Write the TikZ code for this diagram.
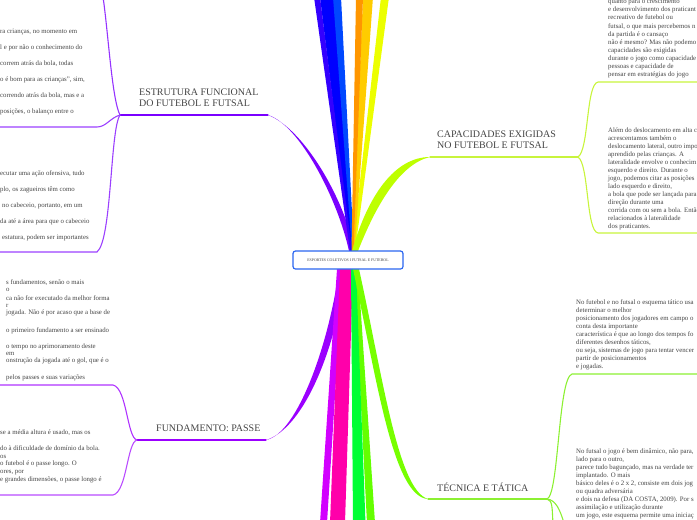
\documentclass[tikz,border=0pt]{standalone}
\usepackage{fontspec}
\setmainfont{Liberation Serif}
\usepackage{xcolor}
\definecolor{mmhub}{RGB}{43,102,240}
\definecolor{mmtext}{RGB}{68,68,68}
\definecolor{mmviolet}{RGB}{122,0,255}
\definecolor{mmpurple}{RGB}{155,0,255}
\definecolor{mmlime}{RGB}{190,255,0}
\definecolor{mmlimeline}{RGB}{200,244,60}
\definecolor{mmgreen}{RGB}{119,255,0}
\definecolor{mmgreenline}{RGB}{140,240,50}
\definecolor{mmindigo}{RGB}{51,0,255}
\definecolor{mmblue}{RGB}{0,0,255}
\definecolor{mmazure}{RGB}{0,72,255}
\definecolor{mmorange}{RGB}{255,150,0}
\definecolor{mmgold}{RGB}{255,204,0}
\definecolor{mmyellow}{RGB}{236,255,0}
\definecolor{mmmagenta}{RGB}{210,0,255}
\definecolor{mmpink}{RGB}{255,0,170}
\definecolor{mmspring}{RGB}{0,255,51}
\definecolor{mmchart}{RGB}{100,255,0}
\usepackage{tikz}

\begin{document}
\begin{tikzpicture}[x=1pt,y=-1pt,
  hub/.style={draw=mmhub,line width=1.2pt,rounded corners=2.5pt,fill=white,
    minimum width=110pt,minimum height=18pt,inner sep=0pt,
    font=\fontsize{3.9}{4.5}\selectfont,text=mmtext},
  topic/.style={font=\fontsize{10}{11}\selectfont,text=mmtext,align=left,inner sep=0pt},
  note/.style={text=mmtext,align=left,inner sep=0pt,anchor=north west},
  twig/.style={line width=1.1pt,line cap=round}
]
  \useasboundingbox (0,0) rectangle (697,520);
  \clip (0,0) rectangle (697,520);

  \coordinate (hubtop) at (353,251);
  \coordinate (hubbot) at (350,269);

  % Estrutura funcional
  \coordinate (estr-root) at (268,115);
  \coordinate (estr-fork) at (120,115);
  \coordinate (estr-up) at (103,-3);
  \coordinate (estr-a) at (97,127);
  \coordinate (estr-a-end) at (-3,127);
  \coordinate (estr-b) at (97,252);
  \coordinate (estr-b-end) at (-3,252);
  \fill[mmviolet] ([xshift=-4pt]hubtop) .. controls (338,200) and (300,125) .. (estr-root)
    .. controls (304,129) and (344,198) .. ([xshift=2pt]hubtop) -- cycle;
  \draw[twig,mmviolet] (estr-root) -- (estr-fork);
  \draw[twig,mmviolet!80!white] (estr-fork) .. controls (112,100) and (108,30) .. (estr-up);
  \draw[twig,mmviolet!75!white] (estr-fork) .. controls (110,118) and (106,127) .. (estr-a) -- (estr-a-end);
  \draw[twig,mmviolet!75!white] (estr-fork) .. controls (110,130) and (112,240) .. (estr-b) -- (estr-b-end);
  \node[topic,anchor=north west] (estrutura) at (139,88.5) {ESTRUTURA FUNCIONAL\\DO FUTEBOL E FUTSAL};
  \node[note,font=\fontsize{6.8}{16}\selectfont] (estr-note1) at (0,29)
    {ra crianças, no momento em\\l e por não o conhecimento do\\correm atrás da bola, todas\\o é bom para as crianças”, sim,\\correndo atrás da bola, mas e a\\posições, o balanço entre o};
  \node[note,font=\fontsize{6.8}{16}\selectfont] (estr-note2) at (0,171)
    {ecutar uma ação ofensiva, tudo\\plo, os zagueiros têm como\\\hspace{2pt}no cabeceio, portanto, em um\\da até a área para que o cabeceio\\\hspace{2pt}estatura, podem ser importantes};

  % Ribbons going up
  \coordinate (up1) at (317,-3);
  \coordinate (up2) at (327,-3);
  \coordinate (up3) at (337,-3);
  \coordinate (up4) at (360,-3);
  \coordinate (up5) at (368,-3);
  \coordinate (up6) at (385,-3);
  \fill[mmblue] ([xshift=-2pt]hubtop) -- ([xshift=-7pt]up2) -- ([xshift=7pt]up2) -- ([xshift=1pt]hubtop) -- cycle;
  \fill[mmindigo] ([xshift=-3pt]hubtop) -- ([xshift=-3pt]up1) -- ([xshift=3pt]up1) -- ([xshift=-1pt]hubtop) -- cycle;
  \fill[mmazure] ([xshift=-1pt]hubtop) -- ([xshift=-4pt]up3) -- ([xshift=4pt]up3) -- ([xshift=1pt]hubtop) -- cycle;
  \fill[mmyellow] ([xshift=-1pt]hubtop) -- ([xshift=-4pt]up6) -- ([xshift=4pt]up6) -- ([xshift=2pt]hubtop) -- cycle;
  \fill[mmgold] ([xshift=-1pt]hubtop) -- ([xshift=-5pt]up5) -- ([xshift=5pt]up5) -- ([xshift=1.5pt]hubtop) -- cycle;
  \fill[mmorange] ([xshift=-1.5pt]hubtop) -- ([xshift=-4pt]up4) -- ([xshift=3pt]up4) -- ([xshift=0.5pt]hubtop) -- cycle;
  \node[note,font=\fontsize{6.8}{8.1}\selectfont] (up-note) at (608,-1)
    {quanto para o crescimento\\e desenvolvimento dos praticant\\recreativo de futebol ou\\futsal, o que mais percebemos n\\da partida é o cansaço\\não é mesmo? Mas não podemo\\capacidades são exigidas\\durante o jogo como capacidade\\pessoas e capacidade de\\pensar em estratégias do jogo};

  % Capacidades exigidas
  \coordinate (cap-root) at (430,157);
  \coordinate (cap-fork) at (578,157);
  \coordinate (cap-a) at (598,82);
  \coordinate (cap-a-end) at (700,82);
  \coordinate (cap-b) at (598,233);
  \coordinate (cap-b-end) at (700,233);
  \fill[mmlime] ([xshift=-1pt]hubtop) .. controls (368,195) and (395,157) .. (cap-root)
    .. controls (400,164) and (376,205) .. ([xshift=5pt]hubtop) -- cycle;
  \draw[twig,mmlimeline] (cap-root) -- (cap-fork);
  \draw[twig,mmlimeline] (cap-fork) .. controls (589,150) and (586,84) .. (cap-a) -- (cap-a-end);
  \draw[twig,mmlimeline] (cap-fork) .. controls (589,164) and (586,231) .. (cap-b) -- (cap-b-end);
  \node[topic,anchor=north west] (capacidades) at (437,130.5) {CAPACIDADES EXIGIDAS\\NO FUTEBOL E FUTSAL};
  \node[note,font=\fontsize{6.8}{8}\selectfont] (cap-note) at (608,128)
    {Além do deslocamento em alta c\\acrescentamos também o\\deslocamento lateral, outro impo\\aprendido pelas crianças. A\\lateralidade envolve o conhecim\\esquerdo e direito. Durante o\\jogo, podemos citar as posições\\lado esquerdo e direito,\\a bola que pode ser lançada para\\direção durante uma\\corrida com ou sem a bola. Então\\relacionados à lateralidade\\dos praticantes.};

  % Fundamento: passe
  \coordinate (fund-root) at (266,440);
  \coordinate (fund-fork) at (137,440);
  \coordinate (fund-a) at (113,385);
  \coordinate (fund-a-end) at (-3,385);
  \coordinate (fund-b) at (113,495);
  \coordinate (fund-b-end) at (-3,495);
  \fill[mmpurple] ([xshift=-11pt]hubbot) .. controls (330,340) and (298,434) .. (fund-root)
    .. controls (305,428) and (337,345) .. ([xshift=-4pt]hubbot) -- cycle;
  \draw[twig,mmpurple] (fund-root) -- (fund-fork);
  \draw[twig,mmpurple!80!white] (fund-fork) .. controls (127,438) and (127,388) .. (fund-a) -- (fund-a-end);
  \draw[twig,mmpurple!70!white] (fund-fork) .. controls (127,442) and (127,492) .. (fund-b) -- (fund-b-end);
  \node[topic,anchor=base west] (passe) at (156,431.5) {FUNDAMENTO: PASSE};
  \node[note,font=\fontsize{6.8}{7}\selectfont] (passe-note1) at (6,280)
    {s fundamentos, senão o mais\\o\\[2pt]ca não for executado da melhor forma\\r\\jogada. Não é por acaso que a base de\\[11pt]o primeiro fundamento a ser ensinado\\[9pt]o tempo no aprimoramento deste\\em\\onstrução da jogada até o gol, que é o\\[10pt]pelos passes e suas variações};
  \node[note,font=\fontsize{6.8}{7.7}\selectfont] (passe-note2) at (0,430)
    {se a média altura é usado, mas os\\[7.7pt]do à dificuldade de domínio da bola.\\os\\o futebol é o passe longo. O\\ores, por\\e grandes dimensões, o passe longo é};

  % Ribbons going down
  \coordinate (down1) at (323.5,523);
  \coordinate (down2) at (337.5,523);
  \coordinate (down3) at (359.5,523);
  \coordinate (down4) at (371,523);
  \fill[mmmagenta] ([xshift=-13pt]hubbot) -- ([xshift=-3.5pt]down1) -- ([xshift=3.5pt]down1) -- ([xshift=-7pt]hubbot) -- cycle;
  \fill[mmpink] ([xshift=-10pt]hubbot) -- ([xshift=-7.5pt]down2) -- ([xshift=7.5pt]down2) -- ([xshift=3pt]hubbot) -- cycle;
  \fill[mmchart] ([xshift=4pt]hubbot) -- ([xshift=-4pt]down4) -- ([xshift=4pt]down4) -- ([xshift=8pt]hubbot) -- cycle;
  \fill[mmspring] ([xshift=1pt]hubbot) -- ([xshift=-6.5pt]down3) -- ([xshift=6pt]down3) -- ([xshift=6pt]hubbot) -- cycle;

  % Tecnica e tatica
  \coordinate (tec-root) at (428,499);
  \coordinate (tec-fork) at (547,499);
  \coordinate (tec-a) at (572,374);
  \coordinate (tec-a-end) at (700,374);
  \coordinate (tec-b) at (553,523);
  \coordinate (tec-c) at (564,523);
  \fill[mmgreen] ([xshift=3pt]hubbot) .. controls (377,380) and (393,497) .. (tec-root)
    .. controls (398,490) and (383,378) .. ([xshift=9pt]hubbot) -- cycle;
  \draw[twig,mmgreenline] (tec-root) -- (tec-fork);
  \draw[twig,mmgreenline] (tec-fork) .. controls (559,495) and (558,378) .. (tec-a) -- (tec-a-end);
  \draw[twig,mmgreenline] (tec-fork) .. controls (553,500) and (552,510) .. (tec-b);
  \draw[twig,mmgreenline] (tec-fork) .. controls (556,500) and (560,510) .. (tec-c);
  \node[topic,anchor=base west] (tecnica) at (437,491.5) {TÉCNICA E TÁTICA};
  \node[note,font=\fontsize{6.8}{8}\selectfont] (tec-note1) at (576,300)
    {No futebol e no futsal o esquema tático usa\\determinar o melhor\\posicionamento dos jogadores em campo o\\conta desta importante\\característica é que ao longo dos tempos fo\\diferentes desenhos táticos,\\ou seja, sistemas de jogo para tentar vencer\\partir de posicionamentos\\e jogadas.};
  \node[note,font=\fontsize{6.8}{8}\selectfont] (tec-note2) at (576,449)
    {No futsal o jogo é bem dinâmico, não para,\\lado para o outro,\\parece tudo bagunçado, mas na verdade ter\\implantado. O mais\\básico deles é o 2 x 2, consiste em dois jog\\ou quadra adversária\\e dois na defesa (DA COSTA, 2009). Por s\\assimilação e utilização durante\\um jogo, este esquema permite uma iniciaç};

  % Central topic
  \node[hub] (hub) at (348,260) {ESPORTES COLETIVOS I FUTSAL E FUTEBOL};
\end{tikzpicture}
\end{document}
